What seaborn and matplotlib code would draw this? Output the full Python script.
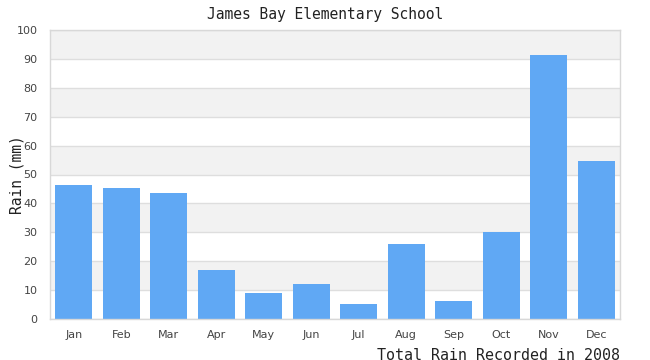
import matplotlib
matplotlib.use("Agg")
import matplotlib.pyplot as plt
import seaborn as sns
import pandas as pd

months = ["Jan", "Feb", "Mar", "Apr", "May", "Jun", "Jul", "Aug", "Sep", "Oct", "Nov", "Dec"]
rain = [46.4, 45.3, 43.6, 17.0, 9.0, 12.1, 5.2, 26.0, 6.2, 30.1, 91.3, 54.7]
yticks = [0, 10, 20, 30, 40, 50, 60, 70, 80, 90, 100]

sns.set_theme(style="white")
plt.rcParams['font.family'] = ['DejaVu Sans']

df = pd.DataFrame({"month": months, "rain": rain})

fig = plt.figure(figsize=(6.5, 3.6), dpi=100)
ax = fig.add_axes([50/650, 1-319/360, 570/650, 289/360])

# alternating bands
for i in range(0, 100, 20):
    ax.axhspan(i + 10, i + 20, color="#f2f2f2", zorder=0, lw=0)
for t in yticks:
    ax.axhline(t, color="#dedede", lw=1, zorder=0.5)

sns.barplot(data=df, x="month", y="rain", color="#60a8f4", saturation=1,
            width=0.78, ax=ax, zorder=2, linewidth=0, edgecolor="none")

ax.set_ylim(0, 100)
ax.set_xlim(-0.5, 11.5)
ax.set_yticks(yticks)
ax.set_yticklabels([str(t) for t in yticks])
ax.tick_params(axis="both", length=0, labelsize=8, colors="#444444")
ax.tick_params(axis="x", pad=8)
ax.tick_params(axis="y", pad=9)
for s in ax.spines.values():
    s.set_color("#d8d8d8")
    s.set_linewidth(1)
ax.set_xlabel("")
ax.set_ylabel("")

fig.text(325/650, 1-14/360, "James Bay Elementary School", ha="center", va="center",
         fontsize=10.5, family="DejaVu Sans Mono", color="#222222")
fig.text(17/650, 1-175/360, "Rain (mm)", ha="center", va="center", rotation=90,
         fontsize=10.5, family="DejaVu Sans Mono", color="#222222")
fig.text(620/650, 1-356/360, "Total Rain Recorded in 2008", ha="right", va="center",
         fontsize=10.8, family="DejaVu Sans Mono", color="#222222")

fig.savefig("out.png", dpi=100)
